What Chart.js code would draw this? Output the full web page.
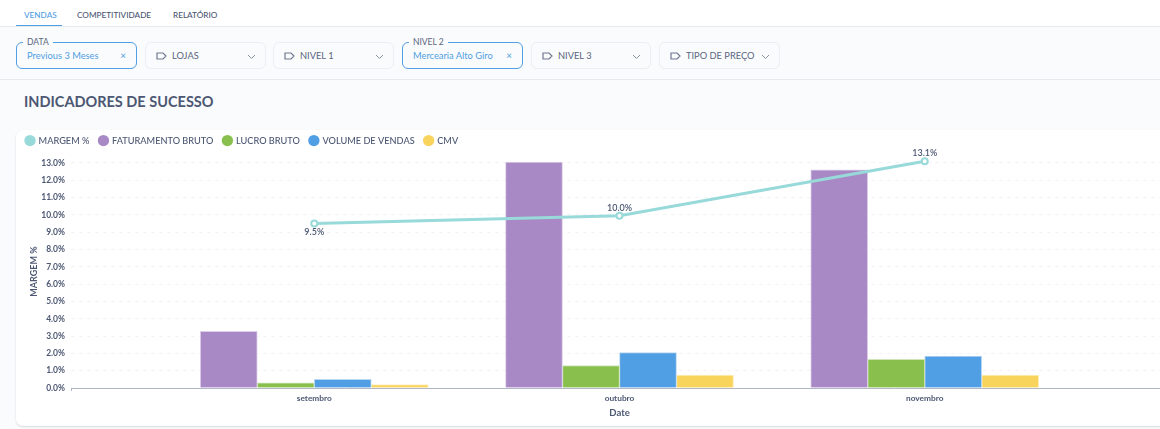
<!DOCTYPE html>
<html><head><meta charset="utf-8">
<script src="https://cdn.jsdelivr.net/npm/chart.js@4"></script>
<style>
*{box-sizing:border-box}
html,body{margin:0;padding:0;width:1160px;height:429px;overflow:hidden;background:#f9fbfc;font-family:Lato,sans-serif;color:#4c5773}
.tabs{position:absolute;left:0;top:0;width:1160px;height:27px;background:#fff;border-bottom:1px solid #e6e9ee}
.tab{position:absolute;top:9px;font-size:8.2px;line-height:12px;font-weight:500;white-space:nowrap}
.tab.on{color:#509ee3}
.under{position:absolute;left:16px;top:25px;width:46px;height:1px;background:#509ee3}
.bar{position:absolute;left:0;top:27px;width:1160px;height:53px;border-bottom:1px solid #e6e9ee}
.f{position:absolute;top:42px;height:27px;border:1px solid #eceef2;border-radius:6px;background:#f9fbfc;font-size:9.3px;line-height:25px;white-space:nowrap;color:#5b6580}
.f.on{border-color:#509ee3;color:#509ee3}
.f .lab{position:absolute;left:26px;top:0}
.f.on .lab{left:10px}
.f svg{position:absolute}
.leg{position:absolute;left:6px;top:-7px;padding:0 4px;background:#f9fbfc;color:#5b6580;font-size:8.5px;line-height:12px}
.x{position:absolute;right:10px;top:0;font-size:10px}
h1{position:absolute;margin:0;left:24px;top:92px;font-size:14.5px;line-height:20px;font-weight:700;white-space:nowrap;color:#4c5773}
.card{position:absolute;left:16px;top:130px;width:1170px;height:296px;background:#fff;border-radius:7px;box-shadow:0 1px 2px rgba(60,70,90,.18)}
canvas{position:absolute;left:16px;top:126px}
</style></head><body>
<div class="tabs"><span class="tab on" style="left:24px">VENDAS</span><span class="tab" style="left:77px">COMPETITIVIDADE</span><span class="tab" style="left:173px">RELATÓRIO</span><div class="under"></div></div>
<div class="bar"></div>
<div id="filters"></div>
<h1>INDICADORES DE SUCESSO</h1>
<div class="card"></div>
<canvas id="c" width="1158" height="300"></canvas>
<script>
const categories = ['setembro', 'outubro', 'novembro'];
const margem = [9.5, 9.95, 13.1];
const faturamento = [3.28, 13.05, 12.6];
const lucro = [0.3, 1.3, 1.65];
const volume = [0.5, 2.05, 1.85];
const cmv = [0.2, 0.75, 0.75];
const margemLabels = ['9.5%', '10.0%', '13.1%'];
const seriesNames = ['MARGEM %', 'FATURAMENTO BRUTO', 'LUCRO BRUTO', 'VOLUME DE VENDAS', 'CMV'];
const yTicks = [0,1,2,3,4,5,6,7,8,9,10,11,12,13];

const filters = [
  [16,121,'Previous 3 Meses','DATA'],[145,121,'LOJAS'],[273,121,'NIVEL 1'],
  [402,121,'Mercearia Alto Giro','NIVEL 2'],[531,120,'NIVEL 3'],[659,121,'TIPO DE PREÇO']
];
const tag = '<svg style="left:10px;top:9px" width="11" height="8" viewBox="0 0 11 8"><path d="M1 1h6l3 3-3 3H1z" fill="none" stroke="#6f7890" stroke-width="1.2"/></svg>';
const chev = '<svg style="right:9px;top:11px" width="9" height="6" viewBox="0 0 9 6"><path d="M1 1l3.5 3.5L8 1" fill="none" stroke="#8a92a6" stroke-width="1"/></svg>';
document.getElementById('filters').innerHTML = filters.map(f => f[3]
  ? `<div class="f on" style="left:${f[0]}px;width:${f[1]}px"><span class="leg">${f[3]}</span><span class="lab">${f[2]}</span><span class="x">×</span></div>`
  : `<div class="f" style="left:${f[0]}px;width:${f[1]}px">${tag}<span class="lab">${f[2]}</span>${chev}</div>`).join('');

const xy = vals => vals.map((v,i) => ({x:i,y:v}));
const barSet = (name, vals, color, edge) => ({type:'bar',label:name,data:xy(vals),backgroundColor:color,borderColor:edge,borderWidth:1,barThickness:57,order:2,pointStyle:'circle'});
const textColor = '#4c5773';
const labelPlugin = {id:'labels',afterDatasetsDraw(ch){
  const m = ch.getDatasetMeta(0), g = ch.ctx;
  g.save();g.font='600 9px Lato';g.fillStyle=textColor;g.textAlign='center';g.textBaseline='middle';
  m.data.forEach((p,i)=>{ g.fillText(margemLabels[i], p.x, p.y + (i===0 ? 9 : -8)); });
  g.restore();
}};
new Chart(document.getElementById('c'),{
  data:{datasets:[
    {type:'line',label:seriesNames[0],data:xy(margem),borderColor:'#98d9d9',backgroundColor:'#98d9d9',borderWidth:3,tension:0,clip:false,
     pointRadius:3,pointBorderWidth:2,pointBackgroundColor:'#fff',pointBorderColor:'#98d9d9',order:1,pointStyle:'circle'},
    barSet(seriesNames[1],faturamento,'#a989c5','#dccfe9'),
    barSet(seriesNames[2],lucro,'#88bf4d','#cfe5b8'),
    barSet(seriesNames[3],volume,'#509ee3','#b9d8f4'),
    barSet(seriesNames[4],cmv,'#f9d45c','#fdeebd')
  ]},
  plugins:[labelPlugin],
  options:{
    responsive:false,animation:false,devicePixelRatio:1,
    layout:{padding:0},
    plugins:{
      tooltip:{enabled:false},
      legend:{position:'top',align:'start',
        labels:{usePointStyle:true,pointStyle:'circle',boxWidth:8,boxHeight:8,padding:10,color:'#4c5773',
          font:{family:'Lato',size:9.2,weight:'500'},
          generateLabels(ch){return ch.data.datasets.map((d,i)=>({text:d.label,fillStyle:d.backgroundColor,strokeStyle:d.backgroundColor,lineWidth:0,pointStyle:'circle',datasetIndex:i,fontColor:'#4c5773'}));}
        }}
    },
    scales:{
      x:{type:'linear',offset:false,min:-0.797,max:2.797,
        afterBuildTicks(s){s.ticks=[{value:-0.797}].concat(categories.map((c,i)=>({value:i})));},
        afterFit(s){s.height=38;},
        grid:{offset:false,drawOnChartArea:false,drawTicks:true,tickLength:3,tickColor:c=>c.index===0?'#b0b6c6':'rgba(0,0,0,0)',color:'#b0b6c6'},
        border:{color:'#b0b6c6',width:1},
        ticks:{autoSkip:false,maxRotation:0,padding:2,color:textColor,font:{family:'Lato',size:8.3,weight:'700'},
          callback(v){return categories[v]||'';}},
        title:{display:true,text:'Date',color:textColor,padding:{top:2,bottom:7},font:{family:'Lato',size:9.5,weight:'700'}}
      },
      y:{min:0,max:13.45,
        afterBuildTicks(s){s.ticks=yTicks.map(v=>({value:v}));},
        afterFit(s){s.width=55;},
        grid:{drawTicks:false,color:'#f3f4f6',lineWidth:1},
        border:{display:false,dash:[4,4]},
        ticks:{padding:6,color:textColor,font:{family:'Lato',size:8.5,weight:'700'},callback:v=>v.toFixed(1)+'%'},
        title:{display:true,text:'MARGEM %',color:textColor,padding:{top:13,bottom:0},font:{family:'Lato',size:9,weight:'700'}}
      }
    }
  }
});
</script>
</body></html>
